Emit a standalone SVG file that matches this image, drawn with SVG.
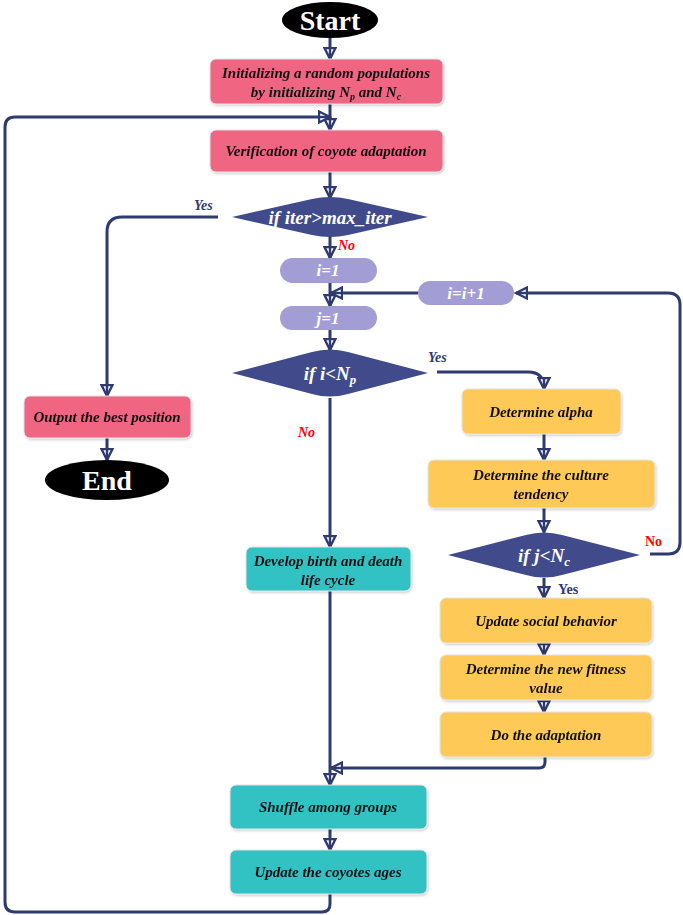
<svg xmlns="http://www.w3.org/2000/svg" width="683" height="915" viewBox="0 0 683 915">
<style>
.pink{fill:#EF6582}
.yel{fill:#FEC957}
.teal{fill:#33C2C3}
.lav{fill:#A39DD6}
.dia{fill:#414B8B}
.term{fill:#000}
.box{stroke:#e4e4e4;stroke-width:1}
.t{font-family:"Liberation Serif",serif;font-weight:bold;font-style:italic;font-size:15px;fill:#111;text-anchor:middle}
.tw{font-family:"Liberation Serif",serif;font-weight:bold;font-style:italic;fill:#fff;text-anchor:middle}
.term-t{font-family:"Liberation Serif",serif;font-weight:bold;font-size:28px;fill:#fff;text-anchor:middle}
.lbl{font-family:"Liberation Serif",serif;font-weight:bold;font-style:italic;font-size:14px}
.conn path{fill:none;stroke:#2F3A6E;stroke-width:3;marker-end:url(#arr)}
.conn path.plain{marker-end:none}
</style>
<defs>
<marker id="arr" markerUnits="userSpaceOnUse" viewBox="0 0 14 14" markerWidth="14" markerHeight="14" refX="12" refY="7" orient="auto">
<path d="M1,1.5 L12,7 L1,12.5 Z" fill="#fff" stroke="#2F3A6E" stroke-width="2.4" stroke-linejoin="miter"/>
<path d="M0,7 L12,7" stroke="#2F3A6E" stroke-width="2.4"/>
</marker>
<filter id="sh" x="-5%" y="-10%" width="110%" height="130%">
<feDropShadow dx="1" dy="1.5" stdDeviation="1" flood-color="#000" flood-opacity="0.18"/>
</filter>
</defs>

<g class="conn">
<path d="M330,38 V59"/>
<path d="M330,104 V130"/>
<path d="M330,894 V904 Q330,912 322,912 H15 Q5,912 5,902 V127 Q5,117 15,117 H330"/>
<path d="M330,172 V198"/>
<path d="M218,217 H122 Q107,217 107,232 V396"/>
<path d="M107,438 V460"/>
<path d="M330,236 V258"/>
<path d="M330,283 V306"/>
<path d="M418,293 H331"/>
<path d="M650,554 H668 Q680,554 680,542 V305 Q680,293 668,293 H516"/>
<path d="M330,330 V350"/>
<path d="M437,372 H528 Q544,372 544,388 V389"/>
<path d="M544,434 V460"/>
<path d="M544,508 V532"/>
<path d="M544,578 V598"/>
<path d="M544,643 V655"/>
<path d="M544,700 V712"/>
<path d="M545,757 V762 Q545,768 539,768 H331"/>
<path d="M330,398 V547"/>
<path d="M330,591 V785"/>
<path d="M330,829 V850"/>
</g>

<g id="start">
<ellipse class="term" cx="330" cy="20" rx="48" ry="18"/>
<text class="term-t" x="330" y="30">Start</text>
</g>

<g id="init" filter="url(#sh)">
<rect class="pink box" x="210" y="59" width="233" height="45" rx="6"/>
<text class="t" x="326" y="78">Initializing a random populations</text>
<text class="t" x="326" y="97">by initializing N<tspan font-size="10" dy="3">p</tspan><tspan dy="-3"> and N</tspan><tspan font-size="10" dy="3">c</tspan></text>
</g>

<g id="verif" filter="url(#sh)">
<rect class="pink box" x="210" y="130" width="233" height="42" rx="6"/>
<text class="t" x="326" y="156">Verification of coyote adaptation</text>
</g>

<g id="d1">
<path class="dia" d="M232,217 L312,199 Q330,195 348,199 L428,217 L348,235 Q330,239 312,235 Z"/>
<text class="tw" x="330" y="224" font-size="19">if iter&gt;max_iter</text>
</g>

<g id="output" filter="url(#sh)">
<rect class="pink box" x="24" y="396" width="167" height="42" rx="6"/>
<text class="t" x="107" y="422">Output the best position</text>
</g>

<g id="end">
<ellipse class="term" cx="107" cy="480" rx="62" ry="20"/>
<text class="term-t" x="107" y="490">End</text>
</g>

<g id="i1">
<rect class="lav" x="280" y="258" width="97" height="25" rx="12.5"/>
<text class="tw" x="328" y="276" font-size="17">i=1</text>
</g>

<g id="iinc">
<rect class="lav" x="418" y="281" width="96" height="24" rx="12"/>
<text class="tw" x="466" y="299" font-size="17">i=i+1</text>
</g>

<g id="j1">
<rect class="lav" x="280" y="306" width="97" height="24" rx="12"/>
<text class="tw" x="328" y="324" font-size="17">j=1</text>
</g>

<g id="d2">
<path class="dia" d="M232,373 L312,352 Q330,347 348,352 L428,373 L348,394 Q330,399 312,394 Z"/>
<text class="tw" x="330" y="380" font-size="19">if i&lt;N<tspan font-size="13" dy="4">p</tspan></text>
</g>

<g id="alpha" filter="url(#sh)">
<rect class="yel box" x="462" y="389" width="159" height="45" rx="6"/>
<text class="t" x="541" y="417">Determine alpha</text>
</g>

<g id="culture" filter="url(#sh)">
<rect class="yel box" x="428" y="460" width="227" height="48" rx="6"/>
<text class="t" x="541" y="480">Determine the culture</text>
<text class="t" x="541" y="499">tendency</text>
</g>

<g id="d3">
<path class="dia" d="M448,555 L526,535 Q544,530 562,535 L640,555 L562,575 Q544,580 526,575 Z"/>
<text class="tw" x="544" y="562" font-size="19">if j&lt;N<tspan font-size="13" dy="4">c</tspan></text>
</g>

<g id="social" filter="url(#sh)">
<rect class="yel box" x="440" y="598" width="212" height="45" rx="6"/>
<text class="t" x="546" y="626">Update social behavior</text>
</g>

<g id="fitness" filter="url(#sh)">
<rect class="yel box" x="440" y="655" width="212" height="45" rx="6"/>
<text class="t" x="546" y="674">Determine the new fitness</text>
<text class="t" x="546" y="693">value</text>
</g>

<g id="adapt" filter="url(#sh)">
<rect class="yel box" x="440" y="712" width="212" height="45" rx="6"/>
<text class="t" x="546" y="740">Do the adaptation</text>
</g>

<g id="develop" filter="url(#sh)">
<rect class="teal box" x="246" y="547" width="165" height="44" rx="6"/>
<text class="t" x="328" y="566">Develop birth and death</text>
<text class="t" x="328" y="585">life cycle</text>
</g>

<g id="shuffle" filter="url(#sh)">
<rect class="teal box" x="230" y="785" width="197" height="44" rx="6"/>
<text class="t" x="328" y="812">Shuffle among groups</text>
</g>

<g id="ages" filter="url(#sh)">
<rect class="teal box" x="230" y="850" width="197" height="44" rx="6"/>
<text class="t" x="328" y="877">Update the coyotes ages</text>
</g>

<g id="labels">
<text class="lbl" x="194" y="210" fill="#2F3A6E">Yes</text>
<text class="lbl" x="338" y="250" fill="#ff0000">No</text>
<text class="lbl" x="428" y="362" fill="#2F3A6E">Yes</text>
<text class="lbl" x="298" y="437" fill="#ff0000">No</text>
<text x="645" y="546" font-family="Liberation Serif, serif" font-weight="bold" font-size="14" fill="#ff0000">No</text>
<text x="558" y="594" font-family="Liberation Serif, serif" font-weight="bold" font-size="14" fill="#2F3A6E">Yes</text>
</g>
</svg>
